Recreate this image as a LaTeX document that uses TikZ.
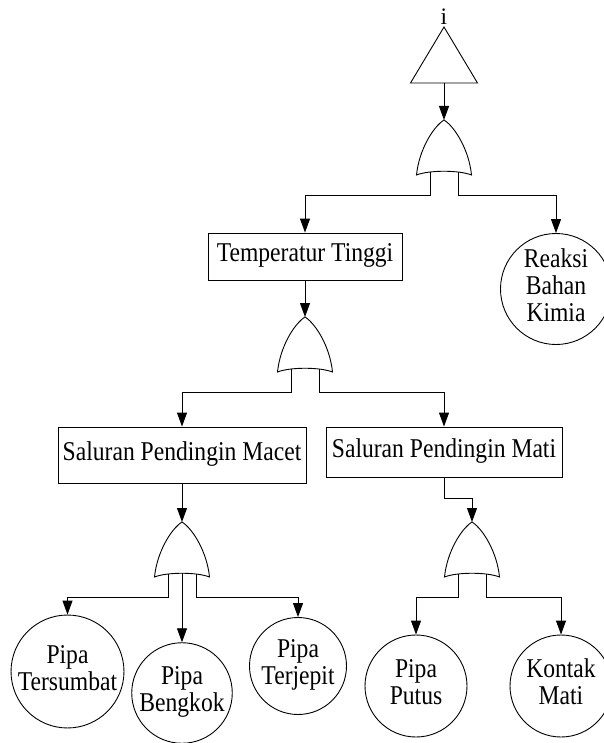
\documentclass[tikz,border=0pt]{standalone}
\usepackage{fontspec}
\usepackage{graphicx}
\setmainfont{Liberation Serif}
\usetikzlibrary{arrows.meta}
\newcommand{\tg}[1]{\scalebox{1}[1.15]{\begin{tabular}{@{}c@{}}#1\end{tabular}}}
\begin{document}
\begin{tikzpicture}[x=1pt,y=-1pt,line width=.9pt,
		every node/.style={font=\fontsize{23.6}{23.5}\selectfont},
		kotak/.style={draw,inner sep=0pt},
		dasar/.style={draw,circle,inner sep=0pt},
		panah/.style={-{Triangle[length=14pt,width=10pt]}}]
			\useasboundingbox (0,0) rectangle (603,743);
			\path
			(444,27) coordinate (T) ++(0,56) coordinate (T')
			(444,120) coordinate (G1)
			(305,317) coordinate (G2)
			(182,522) coordinate (G3)
			(472,522) coordinate (G4)
			;
			\node[anchor=base,inner sep=0pt] (i) at (444,25) {i};
			\draw (T)--++(33.5,56)--++(-67,0)--cycle;
			\foreach \g in {G1,G2,G3,G4}{
				\draw[shift={(\g)}] (0,0) .. controls (-11,7) and (-25,30) .. (-27.5,55)
				.. controls (-15,50) and (15,50) .. (27.5,55)
				.. controls (25,30) and (11,7) .. (0,0) -- cycle;
				\path (\g) ++(-14,52) coordinate (\g-l) ++(14,-1) coordinate (\g-m) ++(14,1) coordinate (\g-r);
			}
			\node[kotak,minimum width=194pt,minimum height=47pt] (temp) at (305,256.5) {\tg{Temperatur Tinggi}};
			\node[kotak,minimum width=248pt,minimum height=56pt] (macet) at (182,455) {\tg{Saluran Pendingin Macet}};
			\node[kotak,minimum width=236pt,minimum height=50pt] (mati) at (444,452) {\tg{Saluran Pendingin Mati}};
			\node[dasar,minimum size=111pt] (reaksi) at (556,289) {\tg{Reaksi\\Bahan\\Kimia}};
			\node[dasar,minimum size=111pt] (sumbat) at (67.5,671.5) {\tg{Pipa\\Tersumbat}};
			\node[dasar,minimum size=100pt] (bengkok) at (182,693) {\tg{Pipa\\Bengkok}};
			\node[dasar,minimum size=97pt] (jepit) at (298,666) {\tg{Pipa\\Terjepit}};
			\node[dasar,minimum size=102pt] (putus) at (416,686) {\tg{Pipa\\Putus}};
			\node[dasar,minimum size=102pt] (kontak) at (561,686) {\tg{Kontak\\Mati}};
			\draw[panah] (T')--(G1);
			\draw[panah] (temp.south)--(G2);
			\draw[panah] (macet.south)--(G3);
			\draw[panah] (mati.south)--++(0,21)-|(G4);
			\foreach \g/\a/\b in {G1/temp/reaksi,G2/macet/mati,G3/sumbat/jepit,G4/putus/kontak}{
				\draw[panah] (\g-l)--++(0,23.5)-|(\a.north);
				\draw[panah] (\g-r)--++(0,23.5)-|(\b.north);
			}
			\draw[panah] (G3-m)--(bengkok.north);
		\end{tikzpicture}
\end{document}
